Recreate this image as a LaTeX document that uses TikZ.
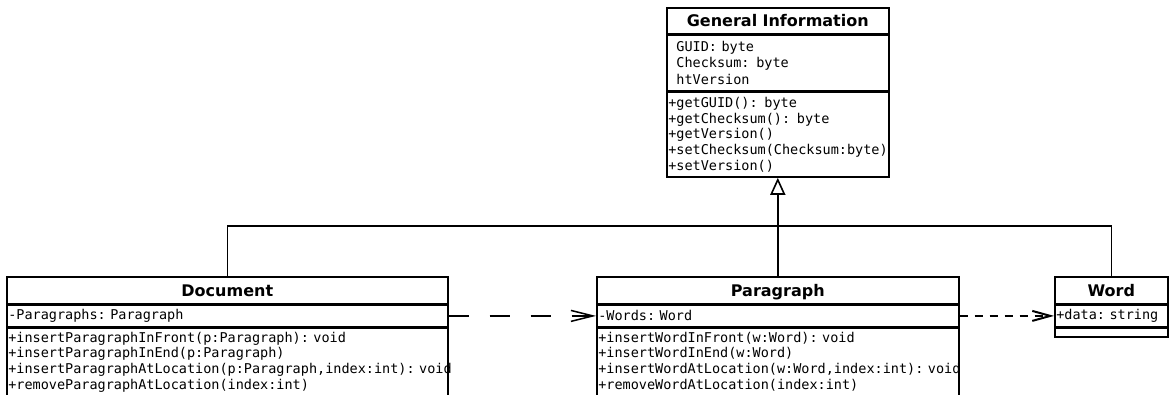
\documentclass[tikz,border=0pt]{standalone}
\usepackage{fontspec}
\setsansfont{DejaVu Sans}
\newfontfamily\umlmono{DejaVu Sans Mono}
\usetikzlibrary{arrows.meta}
\newcommand{\topgap}[1]{\rule{0pt}{#1}}
\newcommand{\botgap}[1]{\rule[-#1]{0pt}{0pt}}

\begin{document}
\begin{tikzpicture}[
  x=1pt, y=-1pt,
  box/.style={draw, line width=1.6pt, anchor=north west, inner xsep=1.5pt, inner ysep=0pt},
  ctitle/.style={box, align=center, text height=14pt, text depth=2pt, font=\sffamily\bfseries\fontsize{16}{19}\selectfont},
  cpart/.style={box, align=left, font=\umlmono\fontsize{13.5}{15.7}\selectfont},
  link/.style={draw, line width=1.6pt},
  gen/.style={link, -{Triangle[open, length=17pt, width=15pt, line width=1.6pt]}},
  deplong/.style={link, line width=1.5pt, dash pattern=on 20pt off 21pt, -{Straight Barb[length=22pt, width=11pt, line width=1.5pt]}},
  depshort/.style={link, line width=1.5pt, dash pattern=on 8pt off 7pt, -{Straight Barb[length=18pt, width=10pt, line width=2pt]}},
]
  \useasboundingbox (0,0) rectangle (1172,394);
  \clip (0,0) rectangle (1172,394);

  % General Information (parent class)
  \node[ctitle, text width=219pt, minimum height=26pt] (gi) at (666,7) {General Information};
  \node[cpart, text width=219pt, minimum height=55pt, font=\umlmono\fontsize{13.5}{16.5}\selectfont] (giattr) at (gi.south west)
    {\hphantom{+}GUID: byte\\\hphantom{+}Checksum: byte\\\hphantom{+}htVersion};
  \node[cpart, text width=219pt] (gimeth) at (giattr.south west)
    {\topgap{15.5pt}+getGUID(): byte\\+getChecksum(): byte\\+getVersion()\\+setChecksum(Checksum:byte)\\+setVersion()\botgap{6.7pt}};

  % Document
  \node[ctitle, text width=438pt, minimum height=27pt] (doc) at (6,276) {Document};
  \node[cpart, text width=438pt, minimum height=21pt] (docattr) at (doc.south west) {-Paragraphs:~Paragraph};
  \node[cpart, text width=438pt] (docmeth) at (docattr.south west)
    {\topgap{14pt}+insertParagraphInFront(p:Paragraph):~void\\+insertParagraphInEnd(p:Paragraph)\\+insertParagraphAtLocation(p:Paragraph,index:int):~void\\+removeParagraphAtLocation(index:int)\botgap{30pt}};

  % Paragraph
  \node[ctitle, text width=359pt, minimum height=27pt] (para) at (596,276) {Paragraph};
  \node[cpart, text width=359pt, minimum height=21pt] (paraattr) at (para.south west) {-Words:~Word};
  \node[cpart, text width=359pt] (parameth) at (paraattr.south west)
    {\topgap{14pt}+insertWordInFront(w:Word):~void\\+insertWordInEnd(w:Word)\\+insertWordAtLocation(w:Word,index:int):~void\\+removeWordAtLocation(index:int)\botgap{30pt}};

  % Word
  \node[ctitle, text width=110pt, minimum height=27pt] (word) at (1054,276) {Word};
  \node[cpart, text width=110pt, minimum height=21pt] (wordattr) at (word.south west) {+data:~string};
  \node[cpart, text width=110pt, minimum height=9pt] (wordmeth) at (wordattr.south west) {};

  % generalisation
  \coordinate (joint) at (777,226);
  \draw[link] (doc.north) |- (joint);
  \draw[link] (word.north) |- (joint);
  \draw[gen] (para.north) -- (gimeth.south);

  % dependencies
  \draw[deplong] (docattr.east) -- (paraattr.west);
  \draw[depshort] (paraattr.east) -- (wordattr.west);
\end{tikzpicture}
\end{document}
